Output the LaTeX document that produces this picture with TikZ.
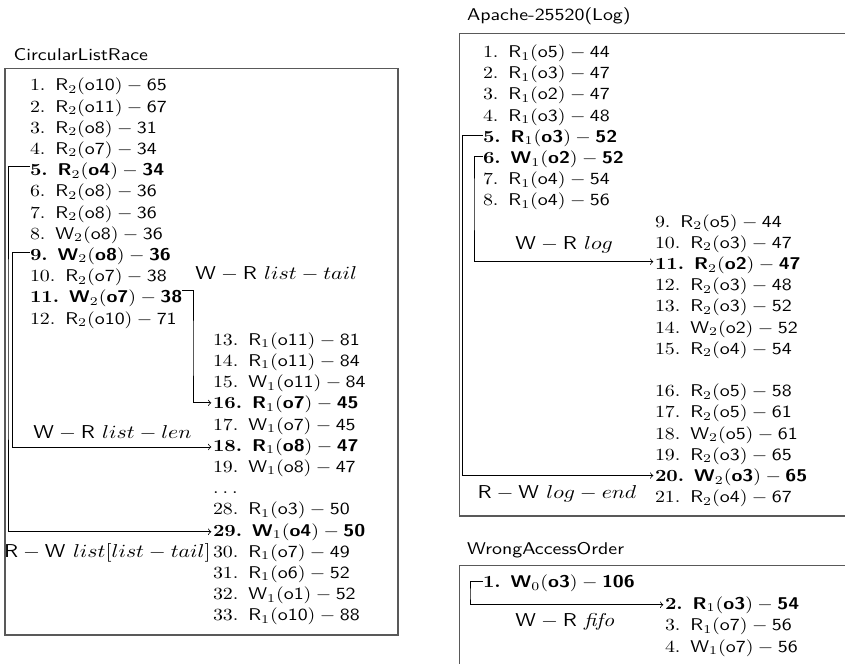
\documentclass[tikz,border=0pt]{standalone}
\usepackage{graphicx}
\usetikzlibrary{calc}

% horizontally widened text, as in the printed figure
\newcommand{\strx}[1]{\scalebox{1.17}[1]{#1}}
% one access event: number, op, thread, object, line
\newcommand{\ev}[5]{#1.\hspace{5pt}$\mathsf{#2}_{#3}(\mathsf{#4})-\mathsf{#5}$}
% the same, for the events that take part in a race
\newcommand{\evb}[5]{\textbf{#1.}\hspace{5pt}$\textsf{\bfseries #2}_{#3}(\textsf{\bfseries #4})-\textsf{\bfseries #5}$}
\newcommand{\lbl}{\fontsize{10.95}{13}\selectfont}

\tikzset{
  entry/.style={anchor=base west, inner sep=0pt, outer sep=0pt},
  caption/.style={anchor=base west, inner sep=0pt},
  racelabel/.style={anchor=base west, inner sep=0pt},
  frame/.style={draw=black!65, line width=0.75pt},
  link/.style={draw=black, line width=0.45pt, ->, shorten >=1pt},
}

\begin{document}
\begin{tikzpicture}[x=0.588pt, y=-0.588pt]
\useasboundingbox (0,0) rectangle (845,663);

% ---------------- CircularListRace ----------------
\node[caption] (t1) at (13.3,60) {\strx{\sffamily CircularListRace}};
\draw[frame] (5,68.3) rectangle (398,635);

\node[entry] (c1)  at (30,90.8)  {\strx{\ev{1}{R}{2}{o10}{65}}};
\node[entry] (c2)  at (30,112.0) {\strx{\ev{2}{R}{2}{o11}{67}}};
\node[entry] (c3)  at (30,133.2) {\strx{\ev{3}{R}{2}{o8}{31}}};
\node[entry] (c4)  at (30,154.4) {\strx{\ev{4}{R}{2}{o7}{34}}};
\node[entry] (c5)  at (30,175.6) {\strx{\evb{5}{R}{2}{o4}{34}}};
\node[entry] (c6)  at (30,196.8) {\strx{\ev{6}{R}{2}{o8}{36}}};
\node[entry] (c7)  at (30,218.0) {\strx{\ev{7}{R}{2}{o8}{36}}};
\node[entry] (c8)  at (30,239.2) {\strx{\ev{8}{W}{2}{o8}{36}}};
\node[entry] (c9)  at (30,260.4) {\strx{\evb{9}{W}{2}{o8}{36}}};
\node[entry] (c10) at (30,281.6) {\strx{\ev{10}{R}{2}{o7}{38}}};
\node[entry] (c11) at (30,302.8) {\strx{\evb{11}{W}{2}{o7}{38}}};
\node[entry] (c12) at (30,324.0) {\strx{\ev{12}{R}{2}{o10}{71}}};

\node[entry] (c13) at (213,345.2) {\strx{\ev{13}{R}{1}{o11}{81}}};
\node[entry] (c14) at (213,366.4) {\strx{\ev{14}{R}{1}{o11}{84}}};
\node[entry] (c15) at (213,387.6) {\strx{\ev{15}{W}{1}{o11}{84}}};
\node[entry] (c16) at (213,408.8) {\strx{\evb{16}{R}{1}{o7}{45}}};
\node[entry] (c17) at (213,430.0) {\strx{\ev{17}{W}{1}{o7}{45}}};
\node[entry] (c18) at (213,451.2) {\strx{\evb{18}{R}{1}{o8}{47}}};
\node[entry] (c19) at (213,472.4) {\strx{\ev{19}{W}{1}{o8}{47}}};
\node[entry] (cdots) at (213,493.6) {\strx{.\hspace{2pt}.\hspace{2pt}.}};
\node[entry] (c28) at (213,514.8) {\strx{\ev{28}{R}{1}{o3}{50}}};
\node[entry] (c29) at (213,536.0) {\strx{\evb{29}{W}{1}{o4}{50}}};
\node[entry] (c30) at (213,557.2) {\strx{\ev{30}{R}{1}{o7}{49}}};
\node[entry] (c31) at (213,578.4) {\strx{\ev{31}{R}{1}{o6}{52}}};
\node[entry] (c32) at (213,599.6) {\strx{\ev{32}{W}{1}{o1}{52}}};
\node[entry] (c33) at (213,620.8) {\strx{\ev{33}{R}{1}{o10}{88}}};

\node[racelabel] (ltail) at (195,279)
  {\strx{\lbl $\mathsf{W}-\mathsf{R}\ list-tail$}};
\node[racelabel] (llen) at (33,438.5)
  {\strx{\lbl $\mathsf{W}-\mathsf{R}\ list-len$}};
\node[racelabel, anchor=base east] (lidx) at (211,557.2)
  {\strx{\lbl $\mathsf{R}-\mathsf{W}\ list[list-tail]$}};

\coordinate (laneA) at (8,350);
\coordinate (laneB) at (12.7,350);
\coordinate (laneC) at (193,350);
\draw[link] ([yshift=3.2pt]c5.west) -| (laneA) |- (c29.west);
\draw[link] ([yshift=2pt]c9.west) -| (laneB) |- (c18.west);
\draw[link] (c11.north east) -| (laneC) |- ([yshift=1pt]c16.west);

% ---------------- Apache-25520(Log) ----------------
\node[caption] (t2) at (466.7,20.7) {\strx{\sffamily Apache-25520(Log)}};
\draw[frame] (846,33.3) -| (459.3,516) -- (846,516);

\node[entry] (a1)  at (483,57.5)  {\strx{\ev{1}{R}{1}{o5}{44}}};
\node[entry] (a2)  at (483,78.7)  {\strx{\ev{2}{R}{1}{o3}{47}}};
\node[entry] (a3)  at (483,99.9)  {\strx{\ev{3}{R}{1}{o2}{47}}};
\node[entry] (a4)  at (483,121.1) {\strx{\ev{4}{R}{1}{o3}{48}}};
\node[entry] (a5)  at (483,142.3) {\strx{\evb{5}{R}{1}{o3}{52}}};
\node[entry] (a6)  at (483,163.5) {\strx{\evb{6}{W}{1}{o2}{52}}};
\node[entry] (a7)  at (483,184.7) {\strx{\ev{7}{R}{1}{o4}{54}}};
\node[entry] (a8)  at (483,205.9) {\strx{\ev{8}{R}{1}{o4}{56}}};

\node[entry] (a9)  at (655,227.1) {\strx{\ev{9}{R}{2}{o5}{44}}};
\node[entry] (a10) at (655,248.3) {\strx{\ev{10}{R}{2}{o3}{47}}};
\node[entry] (a11) at (655,269.5) {\strx{\evb{11}{R}{2}{o2}{47}}};
\node[entry] (a12) at (655,290.7) {\strx{\ev{12}{R}{2}{o3}{48}}};
\node[entry] (a13) at (655,311.9) {\strx{\ev{13}{R}{2}{o3}{52}}};
\node[entry] (a14) at (655,333.1) {\strx{\ev{14}{W}{2}{o2}{52}}};
\node[entry] (a15) at (655,354.3) {\strx{\ev{15}{R}{2}{o4}{54}}};
\node[entry] (a16) at (655,396.7) {\strx{\ev{16}{R}{2}{o5}{58}}};
\node[entry] (a17) at (655,417.9) {\strx{\ev{17}{R}{2}{o5}{61}}};
\node[entry] (a18) at (655,439.1) {\strx{\ev{18}{W}{2}{o5}{61}}};
\node[entry] (a19) at (655,460.3) {\strx{\ev{19}{R}{2}{o3}{65}}};
\node[entry] (a20) at (655,481.5) {\strx{\evb{20}{W}{2}{o3}{65}}};
\node[entry] (a21) at (655,502.7) {\strx{\ev{21}{R}{2}{o4}{67}}};

\node[racelabel] (llog) at (515,249)
  {\strx{\lbl $\mathsf{W}-\mathsf{R}\ log$}};
\node[racelabel] (lend) at (477.3,498.5)
  {\strx{\lbl $\mathsf{R}-\mathsf{W}\ log-end$}};

\coordinate (laneD) at (462.7,300);
\coordinate (laneE) at (474,200);
\draw[link] ([yshift=1.8pt]a5.west) -| (laneD) |- ([yshift=1pt]a20.west);
\draw[link] ([yshift=1.5pt]a6.west) -| (laneE) |- ([yshift=2.1pt]a11.west);

% ---------------- WrongAccessOrder ----------------
\node[caption] (t3) at (466.7,554) {\strx{\sffamily WrongAccessOrder}};
\draw[frame] (846,565.7) -| (459.3,664);

\node[entry] (w1) at (483,587.5) {\strx{\evb{1}{W}{0}{o3}{106}}};
\node[entry] (w2) at (665,609.0) {\strx{\evb{2}{R}{1}{o3}{54}}};
\node[entry] (w3) at (665,630.5) {\strx{\ev{3}{R}{1}{o7}{56}}};
\node[entry] (w4) at (665,652.0) {\strx{\ev{4}{W}{1}{o7}{56}}};

\node[racelabel] (lfifo) at (515,626.7)
  {\strx{\lbl $\mathsf{W}-\mathsf{R}\ \mathit{fifo}$}};

\coordinate (laneF) at (470,595);
\draw[link] ([yshift=1pt]w1.west) -| (laneF) |- (w2.west);
\end{tikzpicture}
\end{document}
